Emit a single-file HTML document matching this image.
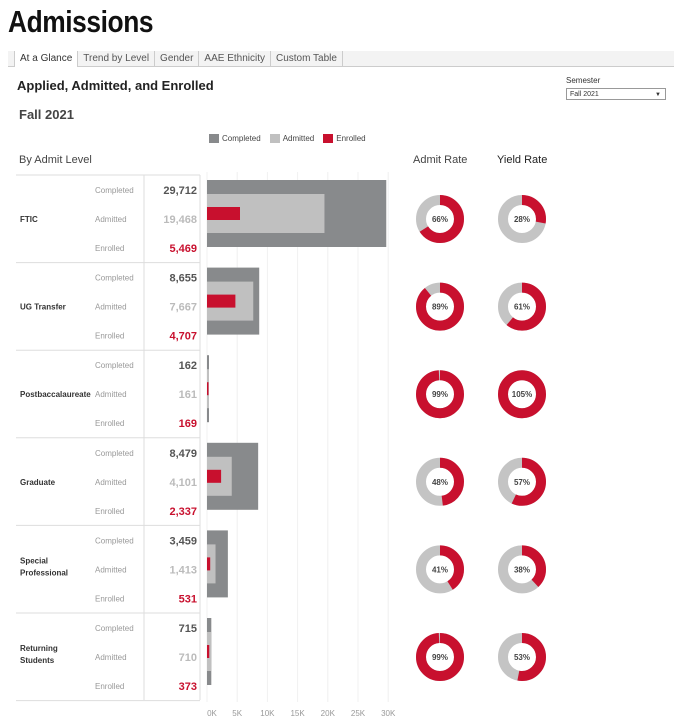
<!DOCTYPE html>
<html><head><meta charset="utf-8"><style>
body{margin:0;width:697px;height:727px;background:#fff;font-family:"Liberation Sans",sans-serif;overflow:hidden;position:relative}
.a{position:absolute;white-space:nowrap}
</style></head><body>
<div class="a" style="left:8px;top:4px;font-family:'Liberation Sans Narrow','Liberation Sans',sans-serif;font-weight:bold;font-size:31px;color:#111;transform:scaleX(0.85);transform-origin:left top;letter-spacing:-0.5px">Admissions</div>
<div class="a" style="left:8px;top:51px;width:666px;height:15px;background:#f3f3f3;border-bottom:1px solid #ccc"></div>
<div class="a" style="left:14px;top:51px;height:16px;font-size:10px;color:#555;display:flex">
<span style="background:#fff;padding:2px 5px;border-left:1px solid #ccc;border-right:1px solid #ccc;color:#333">At a Glance</span>
<span style="padding:2px 5px;border-right:1px solid #ccc">Trend by Level</span>
<span style="padding:2px 5px;border-right:1px solid #ccc">Gender</span>
<span style="padding:2px 5px;border-right:1px solid #ccc">AAE Ethnicity</span>
<span style="padding:2px 5px;border-right:1px solid #ccc">Custom Table</span></div>
<div class="a" style="left:17px;top:78px;font-size:13px;font-weight:bold;color:#222">Applied, Admitted, and Enrolled</div>
<div class="a" style="left:19px;top:107px;font-size:13px;font-weight:bold;color:#444">Fall 2021</div>
<div class="a" style="left:566px;top:76px;font-size:8px;color:#333">Semester</div>
<div class="a" style="left:566px;top:88px;width:98px;height:12px;border:1px solid #999;font-size:7px;color:#333;line-height:12px;padding-left:3px;box-sizing:border-box;width:100px">Fall 2021<span style="position:absolute;right:4px;font-size:6px">▼</span></div>
<div class="a" style="left:209px;top:134px;font-size:8px;color:#444;display:flex;align-items:center">
<span style="display:inline-block;width:10px;height:9px;background:#888a8c;margin-right:3px"></span>Completed
<span style="display:inline-block;width:10px;height:9px;background:#c0c0c0;margin:0 3px 0 9px"></span>Admitted
<span style="display:inline-block;width:10px;height:9px;background:#c8102e;margin:0 3px 0 9px"></span>Enrolled</div>
<div class="a" style="left:19px;top:154px;font-size:11px;color:#444">By Admit Level</div>
<div class="a" style="left:413px;top:154px;font-size:11px;color:#444">Admit Rate</div>
<div class="a" style="left:497px;top:154px;font-size:11px;color:#222">Yield Rate</div>
<svg id="s" class="a" style="left:0;top:0" width="697" height="727" font-family="Liberation Sans, sans-serif"></svg>
<script>
var rows=[["FTIC","",29712,19468,5469,"66%",66,"28%",28],["UG Transfer","",8655,7667,4707,"89%",89,"61%",61],["Postbaccalaureate","",162,161,169,"99%",99,"105%",100],["Graduate","",8479,4101,2337,"48%",48,"57%",57],["Special","Professional",3459,1413,531,"41%",41,"38%",38],["Returning","Students",715,710,373,"99%",99,"53%",53]];
var h='';
h+='<line x1="16" y1="175" x2="200" y2="175" stroke="#ddd"/>';
for(var k=0;k<=6;k++){var gx=207+k*30.2;h+='<line x1="'+gx+'" y1="172" x2="'+gx+'" y2="702" stroke="#f0f0f0"/>';h+='<text x="'+(k==0?212:gx)+'" y="716" font-size="8" fill="#999" text-anchor="middle">'+(k*5)+'K</text>';}
h+='<line x1="144" y1="175" x2="144" y2="700" stroke="#ddd"/><line x1="200" y1="175" x2="200" y2="700" stroke="#ddd"/>';
function f(n){return n.toLocaleString('en-US')}
var sc=181/30000,C=2*Math.PI*19;
rows.forEach(function(r,i){var t=175+i*87.6;
h+='<line x1="16" y1="'+(t+87.6)+'" x2="200" y2="'+(t+87.6)+'" stroke="#ddd"/>';
var cy=t+44;
if(r[1]){h+='<text x="20" y="'+(cy-6)+'" font-size="8" font-weight="bold" fill="#333">'+r[0]+'</text><text x="20" y="'+(cy+6)+'" font-size="8" font-weight="bold" fill="#333">'+r[1]+'</text>';}
else h+='<text x="20" y="'+(cy+3)+'" font-size="8" font-weight="bold" fill="#333">'+r[0]+'</text>';
var L=["Completed","Admitted","Enrolled"],col=["#555","#bbb","#c8102e"];
for(var j=0;j<3;j++){var yy=t+18+j*29;
h+='<text x="95" y="'+yy+'" font-size="8" fill="#999">'+L[j]+'</text>';
h+='<text x="197" y="'+(yy+1)+'" font-size="11" font-weight="bold" fill="'+col[j]+'" text-anchor="end">'+f(r[2+j])+'</text>';}
h+='<rect x="207" y="'+(t+5)+'" width="'+Math.max(r[2]*sc,2)+'" height="67" fill="#888a8c"/>';
h+='<rect x="207" y="'+(t+19)+'" width="'+Math.max(r[3]*sc,2)+'" height="39" fill="#c0c0c0"/>';
h+='<rect x="207" y="'+(t+32)+'" width="'+Math.max(r[4]*sc,1.5)+'" height="13" fill="#c8102e"/>';
[[440,5,6],[522,7,8]].forEach(function(d){
h+='<circle cx="'+d[0]+'" cy="'+cy+'" r="19" fill="none" stroke="#c4c4c4" stroke-width="10"/>';
var p=r[d[2]]/100*C;
h+='<circle cx="'+d[0]+'" cy="'+cy+'" r="19" fill="none" stroke="#c8102e" stroke-width="10" stroke-dasharray="'+p+' '+C+'" transform="rotate(-90 '+d[0]+' '+cy+')"/>';
h+='<text x="'+d[0]+'" y="'+(cy+3)+'" font-size="8" font-weight="bold" fill="#444" text-anchor="middle">'+r[d[1]]+'</text>';});
});
document.getElementById('s').innerHTML=h;
</script>
</body></html>
